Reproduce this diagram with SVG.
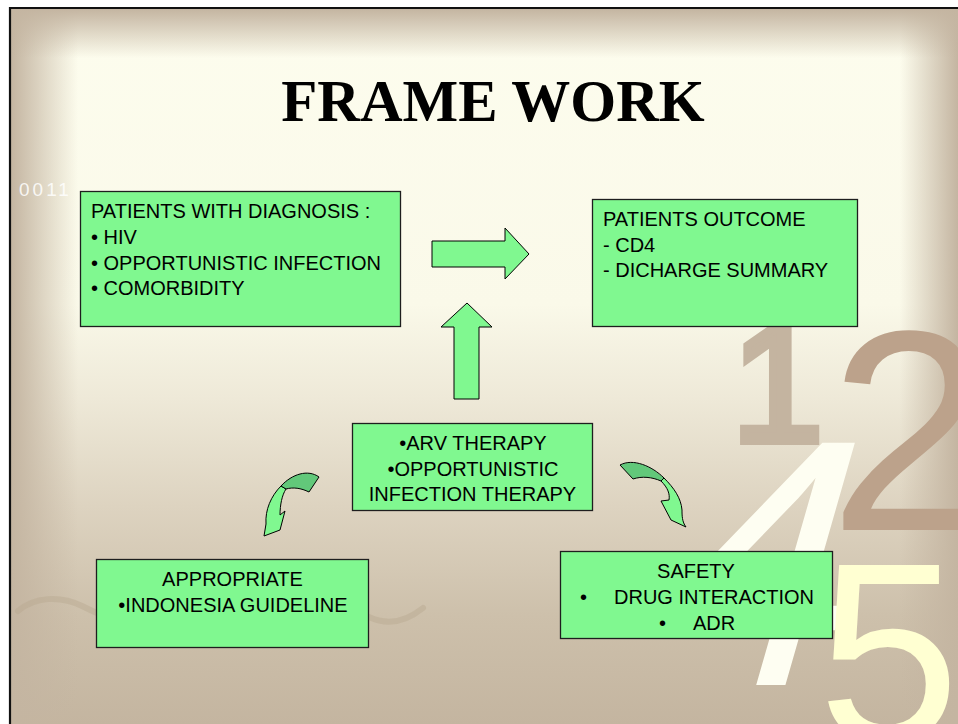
<svg xmlns="http://www.w3.org/2000/svg" width="958" height="724" viewBox="0 0 958 724">
  <defs>
    <linearGradient id="bgFill" x1="0" y1="0" x2="0" y2="724" gradientUnits="userSpaceOnUse">
      <stop offset="0" stop-color="#FDFDEE"/>
      <stop offset="0.42" stop-color="#FAF9E9"/>
      <stop offset="0.55" stop-color="#EEE9D8"/>
      <stop offset="0.70" stop-color="#DDD3C0"/>
      <stop offset="0.85" stop-color="#CDC0AB"/>
      <stop offset="1" stop-color="#C4B5A0"/>
    </linearGradient>
    <linearGradient id="edgeTop" x1="0" y1="9" x2="0" y2="58" gradientUnits="userSpaceOnUse">
      <stop offset="0" stop-color="#C4B5A1"/>
      <stop offset="1" stop-color="#C4B5A1" stop-opacity="0"/>
    </linearGradient>
    <linearGradient id="edgeLeft" x1="11" y1="0" x2="78" y2="0" gradientUnits="userSpaceOnUse">
      <stop offset="0" stop-color="#C4B5A1"/>
      <stop offset="1" stop-color="#C4B5A1" stop-opacity="0"/>
    </linearGradient>
    <linearGradient id="edgeRight" x1="958" y1="0" x2="900" y2="0" gradientUnits="userSpaceOnUse">
      <stop offset="0" stop-color="#C4B5A1"/>
      <stop offset="1" stop-color="#C4B5A1" stop-opacity="0"/>
    </linearGradient>
    <style>
      .box { fill: #80F890; stroke: #1E1E1E; stroke-width: 1.3; }
      .lbl { font-family: "Liberation Sans", Arial, sans-serif; font-size: 20px; fill: #000; }
      .mid { text-anchor: middle; }
      .arrow { fill: #80F890; stroke: #000; stroke-width: 1; stroke-linejoin: miter; }
      .arrow-back { fill: #62C87A; stroke: #000; stroke-width: 1; }
    </style>
  </defs>

  <!-- page and slide frame -->
  <rect x="0" y="0" width="958" height="724" fill="#FFFFFF"/>
  <rect x="10" y="8" width="960" height="730" fill="url(#bgFill)"/>
  <rect x="10" y="8" width="960" height="730" fill="url(#edgeLeft)"/>
  <rect x="10" y="8" width="960" height="730" fill="url(#edgeRight)"/>
  <rect x="10" y="8" width="960" height="60" fill="url(#edgeTop)"/>
  <path d="M10,730 V8 H960" fill="none" stroke="#111" stroke-width="2.2"/>

  <!-- decorative background figures -->
  <g id="background-decor" style="font-family: 'Liberation Sans', Arial, sans-serif;">
    <path d="M18,611 C34,597 60,595 82,606 C104,617 120,624 150,622 M369,617 C384,624 402,625 423,608"
          fill="none" stroke="#B8A890" stroke-opacity="0.45" stroke-width="6" stroke-linecap="round"/>
    <text x="19" y="196" style="font-family: 'Liberation Sans', Arial, sans-serif; font-size: 19px; letter-spacing: 3px;" fill="#FFFFFF" fill-opacity="0.85">0011</text>
    <text x="731.5" y="441" style="font-family: 'Liberation Sans', Arial, sans-serif; font-size: 165px;" fill="#C4B4A0" stroke="#C4B4A0" stroke-width="8">1</text>
    <text x="829" y="530" style="font-family: 'Liberation Sans', Arial, sans-serif; font-size: 286px;" fill="#BCA28B">2</text>
    <text transform="translate(634,685) skewX(-16)" x="0" y="0" style="font-family: 'Liberation Sans', Arial, sans-serif; font-size: 352px;" fill="#FEFEF2">4</text>
    <text x="818" y="741" style="font-family: 'Liberation Sans', Arial, sans-serif; font-size: 255px;" fill="#FFFFD2">5</text>
  </g>

  <!-- title -->
  <text x="493" y="121" text-anchor="middle" font-family="'Liberation Serif', 'Times New Roman', serif" font-weight="bold" font-size="59" fill="#000">FRAME WORK</text>

  <!-- connectors -->
  <g id="connectors">
    <polygon class="arrow" points="432,241 505,241 505,228 529,254 505,279 505,267 432,267"/>
    <polygon class="arrow" points="454,399 454,327 441,327 467,303 492,327 479,327 479,399"/>
    <!-- curved arrow toward the guideline box -->
    <g id="curve-left">
      <path class="arrow" d="M281,486 C271,496 265,510 266,524 L264,536 L280,530 L285,511 L280,515 C280,505 282,495 286,489 Z"/>
      <path class="arrow-back" d="M319,477 C308,469 292,474 281,486 L286,489 C293,487 301,488 309,492 Z"/>
    </g>
    <!-- curved arrow toward the safety box -->
    <g id="curve-right">
      <path class="arrow" d="M661,481 C668,488 670,494 669,500 L661,501 L671,520 L686,527 C682,522 682,515 682,510 C681,498 674,488 664,478 Z"/>
      <path class="arrow-back" d="M620,465 C633,458 652,466 664,478 L661,481 C652,477 642,476 633,479 Z"/>
    </g>
  </g>

  <!-- nodes -->
  <g id="diagnosis">
    <rect class="box" x="80.5" y="191.5" width="320" height="135"/>
    <text class="lbl" x="91" y="218">PATIENTS WITH DIAGNOSIS :</text>
    <text class="lbl" x="91" y="244">• HIV</text>
    <text class="lbl" x="91" y="269.5">• OPPORTUNISTIC INFECTION</text>
    <text class="lbl" x="91" y="295">• COMORBIDITY</text>
  </g>

  <g id="outcome">
    <rect class="box" x="592.5" y="199.5" width="265" height="127"/>
    <text class="lbl" x="603" y="226">PATIENTS OUTCOME</text>
    <text class="lbl" x="603" y="252">- CD4</text>
    <text class="lbl" x="603" y="277">- DICHARGE SUMMARY</text>
  </g>

  <g id="therapy">
    <rect class="box" x="352.5" y="423.5" width="240" height="87"/>
    <text class="lbl mid" x="473" y="450">•ARV THERAPY</text>
    <text class="lbl mid" x="473" y="475.5">•OPPORTUNISTIC</text>
    <text class="lbl mid" x="472.5" y="500.5">INFECTION THERAPY</text>
  </g>

  <g id="appropriate">
    <rect class="box" x="96.5" y="559.5" width="272" height="88"/>
    <text class="lbl mid" x="232.5" y="586">APPROPRIATE</text>
    <text class="lbl mid" x="233" y="611.5">•INDONESIA GUIDELINE</text>
  </g>

  <g id="safety">
    <rect class="box" x="560.5" y="551.5" width="272" height="87"/>
    <text class="lbl mid" x="696" y="577.5">SAFETY</text>
    <text class="lbl"><tspan x="580" y="604">•</tspan><tspan x="614" y="604">DRUG INTERACTION</tspan></text>
    <text class="lbl"><tspan x="659" y="629.5">•</tspan><tspan x="693" y="629.5">ADR</tspan></text>
  </g>
</svg>
